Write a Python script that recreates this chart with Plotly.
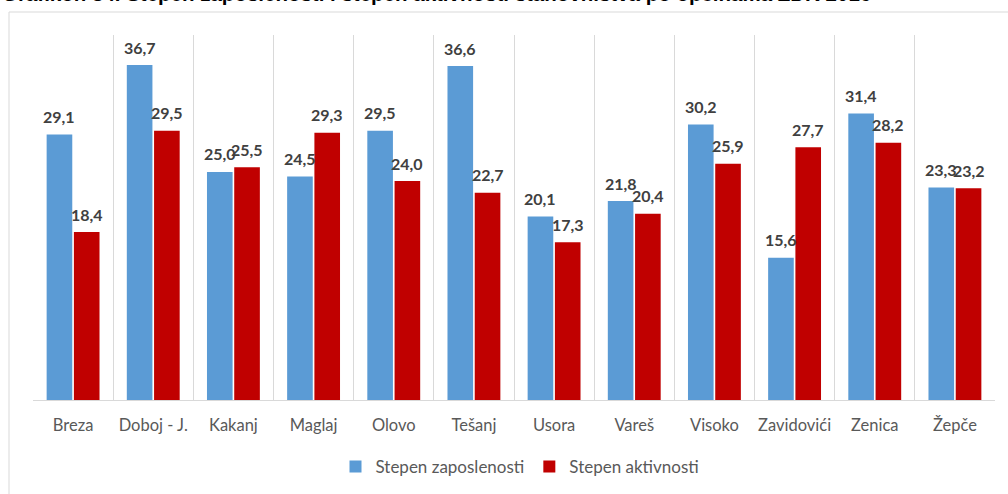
import plotly.graph_objects as go

categories = ["Breza", "Doboj - J.", "Kakanj", "Maglaj", "Olovo", "Tešanj",
              "Usora", "Vareš", "Visoko", "Zavidovići", "Zenica", "Žepče"]
zaposlenost = [29.1, 36.7, 25.0, 24.5, 29.5, 36.6, 20.1, 21.8, 30.2, 15.6, 31.4, 23.3]
aktivnost = [18.4, 29.5, 25.5, 29.3, 24.0, 22.7, 17.3, 20.4, 25.9, 27.7, 28.2, 23.2]
series_names = ["Stepen zaposlenosti", "Stepen aktivnosti"]
series_colors = ["#5B9BD5", "#C00000"]
title_text = "Grafikon 34. Stepen zaposlenosti i stepen aktivnosti stanovništva po općinama ZDK 2016"

W, H = 1008, 494
ML, MR, MT, MB = 33, 13, 35, 94
PW, PH = W - ML - MR, H - MT - MB
BARGAP, GROUPGAP = 0.32, 0.06

def px_x(p):
    return (p - ML) / PW

def px_y(p):
    return (H - MB - p) / PH

FONT = "Lato"

fig = go.Figure()
for name, vals, col in zip(series_names, [zaposlenost, aktivnost], series_colors):
    fig.add_trace(go.Bar(x=categories, y=vals, name=name,
                         marker=dict(color=col, line=dict(width=0))))

# data labels as annotations placed over each bar
cat_px = PW / len(categories)
slot = cat_px * (1 - BARGAP) / 2
annotations = []
for si, vals in enumerate([zaposlenost, aktivnost]):
    shift = (si - 0.5) * slot
    for c, v in zip(categories, vals):
        annotations.append(dict(
            x=c, y=v, xref="x", yref="y", text="<b>" + f"{v:.1f}".replace(".", ",") + "</b>",
            showarrow=False, xshift=shift, yshift=18, yanchor="middle", xanchor="center",
            font=dict(family=FONT, size=16, color="#404040")))

annotations.append(dict(text="<b>" + title_text + "</b>", xref="paper", yref="paper",
                        x=px_x(0), xanchor="left", y=px_y(-7), yanchor="middle",
                        showarrow=False,
                        font=dict(family="Liberation Sans", size=20.5, color="#000000")))

fig.update_layout(
    width=W, height=H,
    margin=dict(l=ML, r=MR, t=MT, b=MB, autoexpand=False),
    paper_bgcolor="white", plot_bgcolor="white",
    separators=", ",
    barmode="group", bargap=BARGAP, bargroupgap=GROUPGAP,
    font=dict(family=FONT, color="#595959"),
    showlegend=True,
    legend=dict(orientation="h", x=px_x(520), xanchor="center",
                y=px_y(467), yanchor="middle",
                font=dict(family=FONT, size=17, color="#595959"),
                itemwidth=30, tracegroupgap=0, bgcolor="rgba(0,0,0,0)"),
    xaxis=dict(
        type="category", tickson="boundaries", showgrid=True,
        gridcolor="#D9D9D9", gridwidth=1, ticks="", showline=True,
        linecolor="#D9D9D9", linewidth=1, tickangle=0,
        tickfont=dict(family=FONT, size=16.5, color="#595959"),
        ticklabelstandoff=10, range=[-0.5, 11.5],
    ),
    yaxis=dict(range=[0, 40], visible=False, showgrid=False, zeroline=False),
    shapes=[dict(type="rect", xref="paper", yref="paper",
                 x0=px_x(9), x1=px_x(1030), y0=px_y(520), y1=px_y(12),
                 line=dict(color="#D9D9D9", width=1), fillcolor="rgba(0,0,0,0)",
                 layer="below")],
    annotations=annotations,
)

fig.write_html("out.html", config={"displayModeBar": False},
               post_script="document.body.style.margin='0';document.body.style.overflow='hidden';")
